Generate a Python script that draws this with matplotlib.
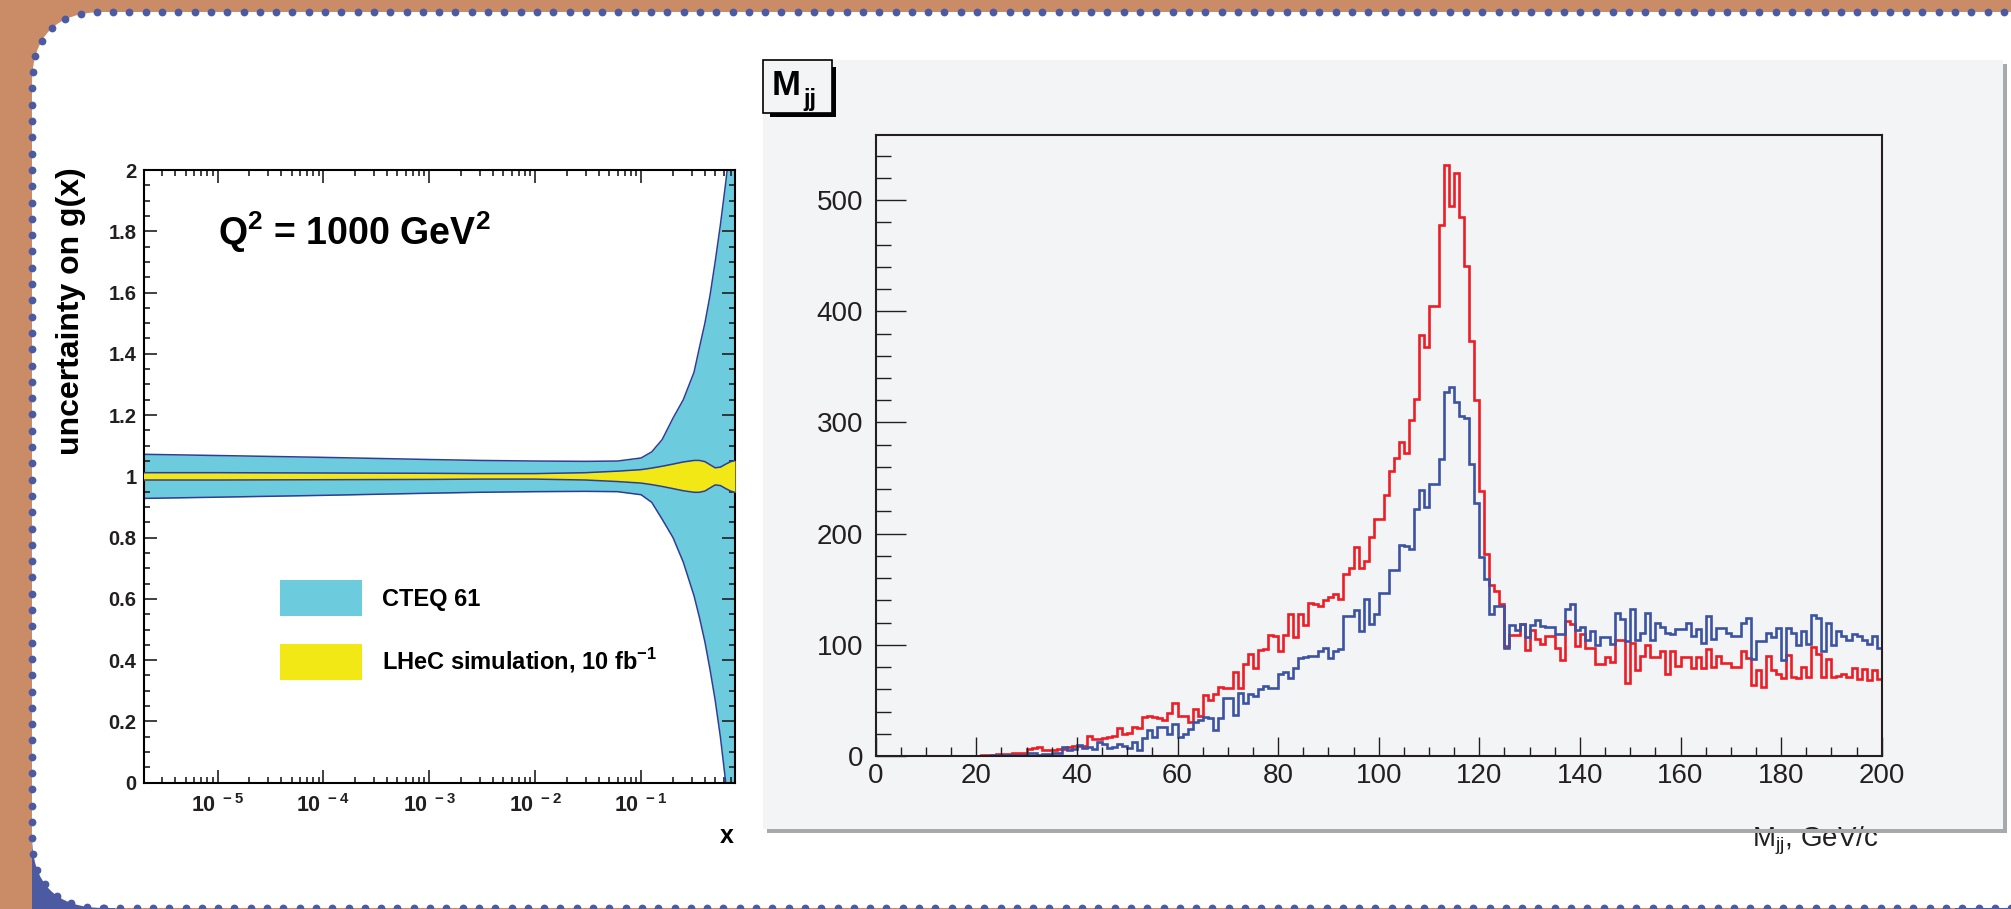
import numpy as np
import matplotlib.pyplot as plt
from matplotlib.patches import Rectangle, FancyBboxPatch, Patch
from matplotlib.ticker import MultipleLocator, LogLocator, NullFormatter
from matplotlib.transforms import IdentityTransform

W, H = 2011, 909
plt.rcParams['font.family'] = ['Liberation Sans', 'DejaVu Sans']
plt.rcParams['mathtext.fontset'] = 'custom'
plt.rcParams['mathtext.rm'] = 'Liberation Sans'
plt.rcParams['mathtext.bf'] = 'Liberation Sans:bold'

# ---------------- gluon uncertainty bands, Q^2 = 1000 GeV^2 ----------------
x_pts = [2e-6, 1e-5, 1e-4, 1e-3, 3e-3, 1e-2, 3e-2, 6e-2, 0.1, 0.126, 0.158,
         0.2, 0.25, 0.316, 0.355, 0.4, 0.447, 0.5, 0.56, 0.63, 0.7, 0.77]
cteq_hi = [1.072, 1.068, 1.062, 1.055, 1.052, 1.05, 1.049, 1.05, 1.06, 1.08, 1.12,
           1.19, 1.25, 1.34, 1.42, 1.50, 1.59, 1.70, 1.82, 1.96, 2.1, 2.3]
cteq_lo = [0.928, 0.932, 0.938, 0.945, 0.948, 0.95, 0.951, 0.95, 0.94, 0.915, 0.86,
           0.80, 0.72, 0.61, 0.54, 0.46, 0.37, 0.27, 0.15, 0.0, -0.15, -0.3]
lhec_hi = [1.012, 1.012, 1.011, 1.01, 1.009, 1.009, 1.012, 1.017, 1.022, 1.027, 1.033,
           1.04, 1.047, 1.052, 1.052, 1.048, 1.038, 1.028, 1.03, 1.04, 1.048, 1.052]
lhec_lo = [0.988, 0.988, 0.989, 0.99, 0.991, 0.991, 0.988, 0.983, 0.978, 0.973, 0.967,
           0.96, 0.953, 0.948, 0.948, 0.952, 0.962, 0.972, 0.97, 0.96, 0.952, 0.948]
band_labels = ['CTEQ 61', r'LHeC simulation, 10 fb$^{\mathbf{-1}}$']
x_major = [1e-5, 1e-4, 1e-3, 1e-2, 1e-1]
x_major_labels = [r'$\mathbf{10^{\ -5}}$', r'$\mathbf{10^{\ -4}}$', r'$\mathbf{10^{\ -3}}$',
                  r'$\mathbf{10^{\ -2}}$', r'$\mathbf{10^{\ -1}}$']
y_left_ticks = [0, 0.2, 0.4, 0.6, 0.8, 1, 1.2, 1.4, 1.6, 1.8, 2]
y_left_labels = ['0', '0.2', '0.4', '0.6', '0.8', '1', '1.2', '1.4', '1.6', '1.8', '2']

# ---------------- dijet mass histograms, 1 GeV bins ----------------
mjj_edges = np.arange(0, 201)
mjj_red = np.array([0] * 20 + [
    0, 1, 1, 1, 2, 2, 2, 3, 3, 3,
    6, 7, 8, 5, 5, 5, 6, 6, 8, 9,
    9, 9, 18, 15, 15, 16, 17, 18, 25, 20,
    21, 26, 25, 35, 36, 35, 34, 32, 39, 48,
    36, 36, 31, 42, 36, 55, 50, 56, 62, 61,
    61, 76, 61, 83, 92, 79, 95, 96, 109, 108,
    94, 109, 128, 107, 128, 118, 138, 137, 135, 140,
    143, 146, 141, 164, 169, 188, 169, 175, 197, 213,
    213, 235, 256, 268, 282, 273, 302, 321, 379, 368,
    405, 405, 478, 532, 495, 524, 485, 441, 373, 320,
    238, 182, 154, 148, 137, 99, 109, 109, 119, 95,
    113, 105, 101, 108, 108, 97, 86, 121, 119, 99,
    110, 97, 97, 83, 83, 89, 85, 104, 104, 66,
    102, 77, 90, 100, 89, 89, 94, 74, 94, 81,
    89, 89, 79, 89, 79, 96, 80, 90, 84, 84,
    80, 80, 94, 88, 64, 77, 62, 90, 77, 74,
    70, 91, 71, 70, 80, 71, 98, 92, 71, 87,
    71, 72, 74, 71, 79, 69, 78, 68, 77, 69])
mjj_blue = np.array([0] * 20 + [
    0, 0, 0, 1, 1, 1, 1, 1, 1, 1,
    3, 3, 1, 2, 2, 3, 3, 8, 5, 6,
    10, 7, 8, 6, 13, 11, 7, 8, 11, 9,
    7, 13, 5, 16, 23, 17, 26, 26, 20, 29,
    17, 20, 24, 31, 32, 35, 34, 23, 34, 52,
    52, 37, 57, 48, 56, 54, 60, 63, 61, 61,
    74, 76, 70, 79, 88, 89, 90, 90, 94, 97,
    88, 94, 96, 126, 126, 131, 112, 141, 119, 128,
    147, 147, 167, 167, 190, 189, 186, 222, 239, 224,
    245, 245, 267, 327, 332, 318, 306, 304, 263, 228,
    179, 159, 128, 135, 135, 97, 118, 113, 119, 107,
    118, 122, 117, 116, 116, 110, 110, 132, 137, 113,
    116, 104, 112, 100, 107, 107, 101, 129, 123, 103,
    132, 104, 111, 129, 104, 120, 116, 111, 110, 114,
    114, 120, 108, 114, 102, 126, 105, 115, 115, 111,
    108, 108, 120, 124, 87, 103, 103, 111, 107, 115,
    86, 115, 111, 100, 112, 101, 127, 124, 94, 120,
    100, 112, 108, 104, 110, 108, 104, 101, 108, 97])
mjj_xticks = np.arange(0, 201, 20)
mjj_yticks = np.arange(0, 501, 100)

BROWN = '#c98c66'
DOTS = '#4b5aa1'
PANEL = '#f3f4f6'
CYAN = '#6ccbdc'
YELLOW = '#f1e815'
EDGE = '#2e3d96'

fig = plt.figure(figsize=(W / 100, H / 100), dpi=100, facecolor=BROWN)
pix = IdentityTransform()


def box(x0, y0, x1, y1, **kw):
    # rectangle in image pixels, y counted from the top edge
    r = Rectangle((x0, H - y1), x1 - x0, y1 - y0, transform=pix, **kw)
    fig.add_artist(r)
    return r


def fpos(x0, y0, x1, y1):
    return [x0 / W, 1 - y1 / H, (x1 - x0) / W, (y1 - y0) / H]


# slide background: blue corner fills, white rounded card with a rim of dots
box(32, 835, 115, 909, fc=DOTS, lw=0, zorder=-3)
box(1955, 880, 2011, 909, fc=DOTS, lw=0, zorder=-3)
card = FancyBboxPatch((32, H - 908), 2060, 896,
                      boxstyle='round,pad=0,rounding_size=72',
                      fc='white', lw=0, transform=pix, zorder=-2)
fig.add_artist(card)

# dots along the card outline, one every ~16 px
rim = card.get_path().to_polygons(closed_only=False)[0]
rim = np.vstack([rim, rim[:1]])
seg = np.hypot(*np.diff(rim, axis=0).T)
arc = np.concatenate([[0], np.cumsum(seg)])
s_dots = np.arange(0, arc[-1], 16.3)
dots_x = np.interp(s_dots, arc, rim[:, 0])
dots_y = np.interp(s_dots, arc, rim[:, 1])
keep = (dots_x < W + 5) & (dots_y > -5)
fig.add_artist(plt.Line2D(dots_x[keep], dots_y[keep], ls='none', marker='o',
                          ms=5.6, mfc=DOTS, mec='none', transform=pix, zorder=-1))

# ---------------- left panel ----------------
ax1 = fig.add_axes(fpos(143.5, 170, 735, 782.7))
ax1.fill_between(x_pts, cteq_lo, cteq_hi, color=CYAN, lw=0, zorder=1)
ax1.plot(x_pts, cteq_hi, color=EDGE, lw=1.1, zorder=2)
ax1.plot(x_pts, cteq_lo, color=EDGE, lw=1.1, zorder=2)
ax1.fill_between(x_pts, lhec_lo, lhec_hi, color=YELLOW, lw=0, zorder=3)
ax1.plot(x_pts, lhec_hi, color=EDGE, lw=1.1, zorder=4)
ax1.plot(x_pts, lhec_lo, color=EDGE, lw=1.1, zorder=4)

ax1.set_xscale('log')
ax1.set_xlim(2e-6, 0.77)
ax1.set_ylim(0, 2)
ax1.set_xticks(x_major)
ax1.set_xticklabels(x_major_labels, fontsize=15.5)
ax1.xaxis.set_minor_locator(LogLocator(base=10, subs=np.arange(2, 10), numticks=20))
ax1.xaxis.set_minor_formatter(NullFormatter())
ax1.set_yticks(y_left_ticks)
ax1.set_yticklabels(y_left_labels, fontsize=14.5, fontweight='bold')
ax1.yaxis.set_minor_locator(MultipleLocator(0.05))
ax1.tick_params(which='both', direction='in', top=True, right=True, width=1.2, colors='#231f20')
ax1.tick_params(which='major', length=9.2)
ax1.tick_params(which='minor', length=4.5)
ax1.tick_params(axis='x', which='major', pad=8)
ax1.tick_params(axis='y', which='major', pad=5)
for s in ax1.spines.values():
    s.set_linewidth(1.5)

leg = ax1.legend([Patch(fc=CYAN, lw=0), Patch(fc=YELLOW, lw=0)], band_labels,
                 loc='upper left', bbox_to_anchor=(279.6, H - 580), bbox_transform=pix,
                 frameon=False, borderpad=0, borderaxespad=0,
                 prop={'size': 17, 'weight': 'bold'},
                 handlelength=3.47, handleheight=2.0, handletextpad=0.86, labelspacing=1.15)

fig.text(218 / W, 1 - 245 / H, r'Q$^{\mathbf{2}}$ = 1000 GeV$^{\mathbf{2}}$',
         fontsize=27, fontweight='bold', va='baseline')
fig.text(71 / W, 1 - 167 / H, 'uncertainty on g(x)', rotation=90,
         ha='center', va='top', fontsize=23, fontweight='bold')
fig.text(727 / W, 1 - 836 / H, 'x', ha='center', va='center', fontsize=18, fontweight='bold')

# ---------------- right panel ----------------
box(762.7, 60, 2002.7, 829, fc=PANEL, lw=0, zorder=1)
box(2002.7, 64, 2006.7, 833, fc='#a8a9aa', lw=0, zorder=3)
box(766.7, 829, 2006.7, 833, fc='#a8a9aa', lw=0, zorder=3)

box(770, 67, 836, 117, fc='black', lw=0, zorder=2)
box(762.7, 60, 831.7, 112.7, fc=PANEL, ec='black', lw=1.2, zorder=2.1)
fig.text(772 / W, 1 - 95 / H, 'M', fontsize=25, fontweight='bold', va='baseline', zorder=2.2)
fig.text(803 / W, 1 - 106 / H, 'jj', fontsize=17, fontweight='bold', va='baseline', zorder=2.2)

ax2 = fig.add_axes(fpos(875.7, 135, 1881.7, 756))
ax2.set_facecolor('none')
ax2.set_zorder(2)
ax2.stairs(mjj_red, mjj_edges, baseline=None, color='#ee1d25', lw=1.9)
ax2.stairs(mjj_blue, mjj_edges, baseline=None, color='#3c52a3', lw=1.9)
ax2.set_xlim(0, 200)
ax2.set_ylim(0, 1.05 * mjj_red.max())
ax2.set_xticks(mjj_xticks)
ax2.set_yticks(mjj_yticks)
ax2.xaxis.set_minor_locator(MultipleLocator(5))
ax2.yaxis.set_minor_locator(MultipleLocator(20))
ax2.tick_params(which='both', direction='in', width=1.0, colors='#231f20', labelsize=20)
ax2.tick_params(axis='x', which='major', length=13.4, pad=5)
ax2.tick_params(axis='x', which='minor', length=6.7)
ax2.tick_params(axis='y', which='major', length=21.6, pad=9)
ax2.tick_params(axis='y', which='minor', length=10.8)
for s in ax2.spines.values():
    s.set_linewidth(1.5)
    s.set_color('#231f20')

fig.text(1879 / W, 1 - 846 / H, r'M$_{\mathrm{jj}}$, GeV/c', ha='right', va='baseline',
         fontsize=20, color='#231f20', zorder=2)

fig.savefig('out.png', dpi=100, facecolor=BROWN)
